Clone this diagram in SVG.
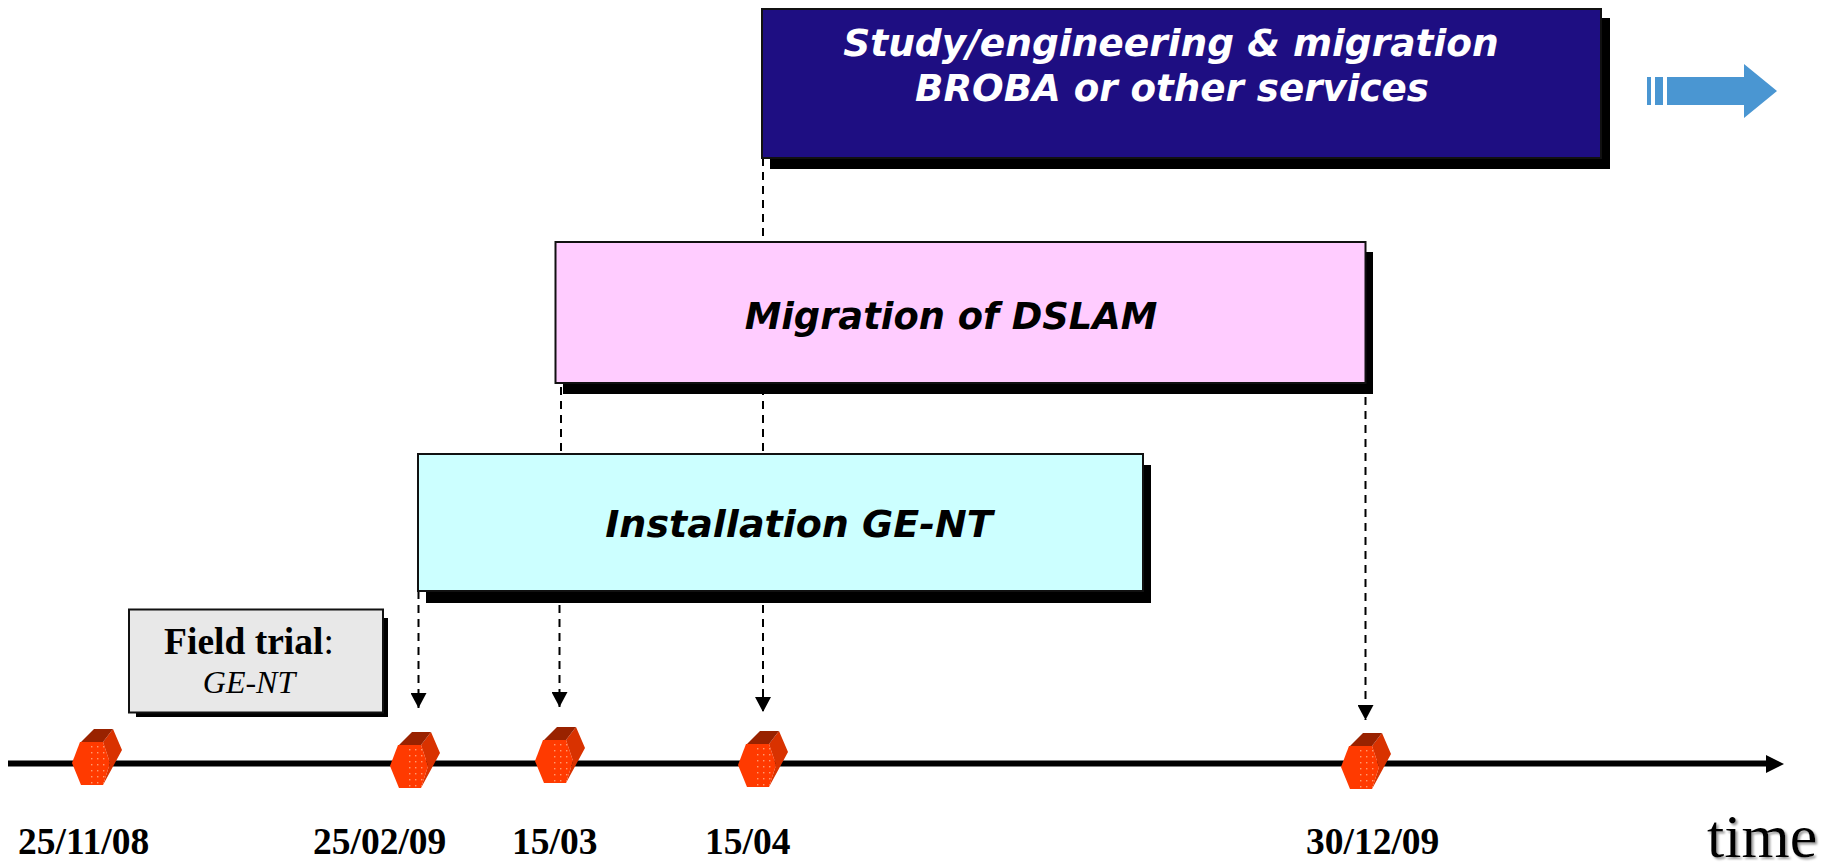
<svg xmlns="http://www.w3.org/2000/svg" width="1839" height="863" viewBox="0 0 1839 863">
<style>
.shadow{fill:#000}
.box{stroke:#111;stroke-width:2}
.title{font-family:"DejaVu Sans",Verdana,sans-serif;font-weight:bold;font-style:italic;font-size:37.500px;text-anchor:middle}
.date{font-family:"Liberation Serif","Times New Roman",serif;font-weight:bold;font-size:37.500px;fill:#000}
.dash{fill:none;stroke:#000;stroke-width:2;stroke-dasharray:8 6}
.front{fill:#ff3a00}.top{fill:#992200}.side{fill:#d93200}
</style>
<defs>
<marker id="dropHead" markerUnits="userSpaceOnUse" markerWidth="16" markerHeight="16" refX="15" refY="8" orient="auto">
<path d="M0 0L15 8L0 16Z" fill="#000"/>
</marker>
<pattern id="dots" width="6" height="6" patternUnits="userSpaceOnUse"><rect x="1" y="1" width="1.400" height="1.400" fill="#ff9a70"/></pattern>
<g id="hex">
<path class="side" d="M41 -34L50 -13L31 22L38 0L31 -21Z"/>
<path class="top" d="M9 -21L22 -34L41 -34L31 -21Z"/>
<path class="front" d="M0 0L8 -21L31 -21L38 0L31 22L9 22Z"/>
<path fill="url(#dots)" d="M16 -20H31L37 0L31 21H16Z"/>
</g>
<filter id="softShadow" x="-10%" y="-10%" width="120%" height="120%"><feDropShadow dx="2" dy="2" stdDeviation="0.800" flood-color="#999"/></filter>
</defs>
<g id="connectors">
<path class="dash" d="M763 158V238"/>
<path class="dash" d="M763 387V454"/>
<path class="dash" d="M561 387V454"/>
<path class="dash" d="M763 591V712" marker-end="url(#dropHead)"/>
<path class="dash" d="M559.500 591V707" marker-end="url(#dropHead)"/>
<path class="dash" d="M418.500 591V708" marker-end="url(#dropHead)"/>
<path class="dash" d="M1365.500 383V720" marker-end="url(#dropHead)"/>
</g>
<g id="timeline">
<path d="M8 760.500H1766V755L1784 764L1766 773V766.500H8Z" fill="#000"/>
</g>
<g id="study-box">
<rect class="shadow" x="770" y="18" width="840" height="151"/>
<rect class="box" x="762" y="9" width="839" height="149" fill="#1e0e82"/>
<text class="title" x="1171" y="56" fill="#fff">Study/engineering &amp; migration</text>
<text class="title" x="1172" y="101" fill="#fff" style="font-size:37.200px">BROBA or other services</text>
</g>
<g id="dslam-box">
<rect class="shadow" x="563" y="252" width="810" height="142"/>
<rect class="box" x="555.500" y="242" width="810" height="141" fill="#ffccff"/>
<text class="title" x="951" y="329" fill="#000" style="font-size:36.800px">Migration of DSLAM</text>
</g>
<g id="gent-box">
<rect class="shadow" x="426" y="465" width="725" height="138"/>
<rect class="box" x="418" y="454" width="725" height="137" fill="#ccffff"/>
<text class="title" x="799" y="537" fill="#000" style="font-size:38px">Installation GE-NT</text>
</g>
<g id="trial-box">
<rect class="shadow" x="136" y="618" width="252" height="99"/>
<rect class="box" x="129" y="609.500" width="254" height="103" fill="#e8e8e8"/>
<text x="249" y="654" font-family="'Liberation Serif',serif" font-size="37.500" text-anchor="middle"><tspan font-weight="bold">Field trial</tspan>:</text>
<text x="249" y="693" font-family="'Liberation Serif',serif" font-size="32" font-style="italic" text-anchor="middle">GE-NT</text>
</g>
<g id="next-arrow" fill="#4a96d2">
<rect x="1647" y="77" width="4" height="28"/>
<rect x="1655" y="77" width="8" height="28"/>
<path d="M1667 77H1744V64L1777 91L1744 118V105H1667Z"/>
</g>
<g id="milestone-1"><use href="#hex" x="72" y="763"/><text class="date" x="18" y="854">25/11/08</text></g>
<g id="milestone-2"><use href="#hex" x="390" y="766"/><text class="date" x="313" y="854">25/02/09</text></g>
<g id="milestone-3"><use href="#hex" x="535" y="761"/><text class="date" x="512" y="854">15/03</text></g>
<g id="milestone-4"><use href="#hex" x="738" y="765"/><text class="date" x="705" y="854">15/04</text></g>
<g id="milestone-5"><use href="#hex" x="1341" y="767"/><text class="date" x="1306" y="854">30/12/09</text></g>
<g id="time-label"><text x="1707" y="857" font-family="'Liberation Serif',serif" font-size="62" filter="url(#softShadow)">time</text></g>
</svg>
